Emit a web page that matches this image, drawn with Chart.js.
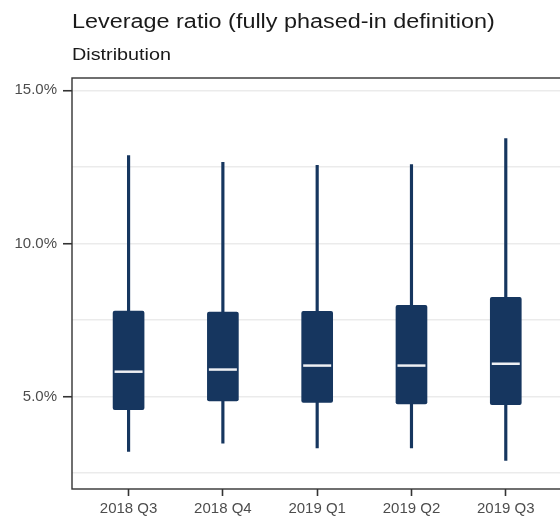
<!DOCTYPE html>
<html>
<head>
<meta charset="utf-8">
<script src="https://cdn.jsdelivr.net/npm/chart.js@4.4.1/dist/chart.umd.min.js"></script>
<style>
    body { margin: 0; background: #fff; }
    #wrap { position: relative; width: 560px; height: 516px; overflow: hidden; }
    #chart { position: absolute; left: 0; top: 0; }
    .heading {
        position: absolute;
        left: 72px;
        margin: 0;
        color: #1a1a1a;
        font-family: "Liberation Sans", Arial, sans-serif;
        font-weight: normal;
        white-space: nowrap;
        transform: scaleX(1.2);
        transform-origin: left top;
    }
    #title { top: 11.8px; font-size: 19.5px; line-height: 19.5px; }
    #subtitle { top: 46px; font-size: 16.5px; line-height: 16.5px; }
</style>
</head>
<body>
<div id="wrap">
    <canvas id="chart" width="560" height="516"></canvas>
    <div class="heading" id="title">Leverage ratio (fully phased-in definition)</div>
    <div class="heading" id="subtitle">Distribution</div>
</div>
<script>
const categories = ['2018 Q3', '2018 Q4', '2019 Q1', '2019 Q2', '2019 Q3'];
const whiskerLow = [3.21, 3.48, 3.32, 3.32, 2.91];
const boxLow = [4.57, 4.86, 4.81, 4.76, 4.73];
const medians = [5.81, 5.88, 6.01, 6.01, 6.07];
const boxHigh = [7.79, 7.76, 7.78, 7.98, 8.24];
const whiskerHigh = [12.87, 12.65, 12.55, 12.57, 13.42];
const yTickValues = [2.5, 5, 7.5, 10, 12.5, 15];
const yLabelled = [5, 10, 15];

const navy = '#16365F';
const axisColor = '#333333';
const tickText = '#4D4D4D';
const fontFamily = '"Liberation Sans", Arial, sans-serif';

// panel border (left, top, bottom); the right edge sits just outside the picture
const panelBorder = {
    id: 'panelBorder',
    afterDatasetsDraw(chart) {
        const { ctx, chartArea } = chart;
        ctx.save();
        ctx.strokeStyle = axisColor;
        ctx.lineWidth = 1.4;
        ctx.strokeRect(chartArea.left, chartArea.top, chartArea.right - chartArea.left + 10, chartArea.bottom - chartArea.top);
        ctx.restore();
    }
};

new Chart(document.getElementById('chart'), {
    type: 'bar',
    data: {
        datasets: [
            {
                type: 'line',
                label: 'Median',
                data: medians.map((v, i) => ({ x: i, y: v })),
                showLine: false,
                pointStyle: 'line',
                pointRadius: 14,
                pointHoverRadius: 14,
                pointBorderWidth: 2.5,
                pointHoverBorderWidth: 2.5,
                pointBorderColor: '#EEF0F3',
                pointBackgroundColor: '#EEF0F3',
                order: 1
            },
            {
                label: 'Interquartile range',
                data: boxLow.map((v, i) => ({ x: i, y: [v, boxHigh[i]] })),
                backgroundColor: navy,
                borderRadius: 2,
                borderSkipped: false,
                barThickness: 31,
                grouped: false,
                order: 2
            },
            {
                label: 'Whiskers',
                data: whiskerLow.map((v, i) => ({ x: i, y: [v, whiskerHigh[i]] })),
                backgroundColor: navy,
                barThickness: 2.5,
                grouped: false,
                order: 3
            }
        ]
    },
    options: {
        responsive: false,
        animation: false,
        events: [],
        layout: { autoPadding: false, padding: { top: 78, right: 0, left: 0, bottom: 0 } },
        plugins: {
            legend: { display: false },
            title: { display: false },
            tooltip: { enabled: false }
        },
        scales: {
            x: {
                type: 'linear',
                min: -0.6,
                max: 4.575,
                offset: false,
                afterBuildTicks: (scale) => {
                    scale.ticks = categories.map((c, i) => ({ value: i }));
                },
                afterFit: (scale) => { scale.height = 27; },
                grid: {
                    offset: false,
                    drawOnChartArea: false,
                    drawTicks: true,
                    tickLength: 7,
                    tickWidth: 1.6,
                    tickColor: axisColor
                },
                border: { display: false },
                ticks: {
                    autoSkip: false,
                    maxRotation: 0,
                    padding: 4,
                    color: tickText,
                    font: { family: fontFamily, size: 15 },
                    callback: (v) => categories[v]
                }
            },
            y: {
                min: 1.98,
                max: 15.4,
                afterBuildTicks: (scale) => {
                    scale.ticks = yTickValues.map(v => ({ value: v }));
                },
                afterFit: (scale) => { scale.width = 72; },
                grid: {
                    color: '#EBEBEB',
                    lineWidth: 1.5,
                    drawTicks: true,
                    tickLength: 9,
                    tickWidth: 1.6,
                    tickColor: (c) => (c.tick && yLabelled.includes(c.tick.value)) ? axisColor : 'rgba(0,0,0,0)'
                },
                border: { display: false },
                ticks: {
                    padding: 6,
                    color: tickText,
                    font: { family: fontFamily, size: 15 },
                    callback: (v) => yLabelled.includes(v) ? v.toFixed(1) + '%' : ''
                }
            }
        }
    },
    plugins: [panelBorder]
});
</script>
</body>
</html>
